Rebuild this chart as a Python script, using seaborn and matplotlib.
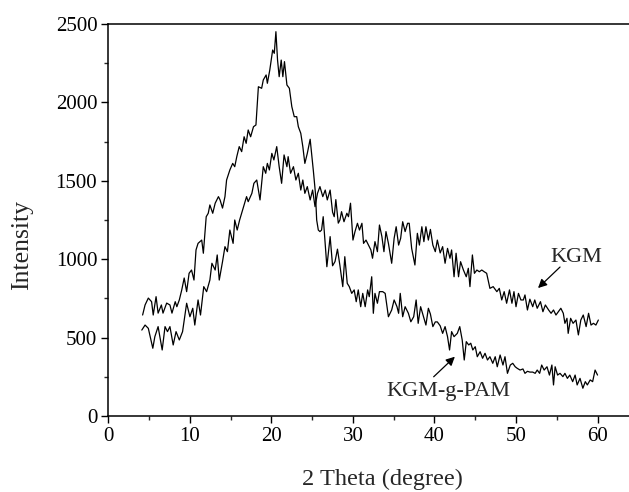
import matplotlib
matplotlib.use("Agg")
import matplotlib.pyplot as plt
import seaborn as sns
import pandas as pd
from matplotlib.ticker import MultipleLocator

# ---- data ----
theta_a = [4.2, 4.5, 4.9, 5.3, 5.5, 5.85, 6.1, 6.5, 6.7, 7.15, 7.55, 7.8, 8.2, 8.4, 8.7, 9.0, 9.3, 9.6, 9.9,
           10.2, 10.5, 10.75, 11.0, 11.45, 11.65, 12.0, 12.25, 12.45, 12.8, 13.1, 13.5, 13.7, 14.0, 14.3, 14.5,
           14.9, 15.25, 15.5, 15.75, 16.05, 16.35, 16.65, 16.9, 17.15, 17.45, 17.8, 18.1, 18.4, 18.8, 19.0,
           19.35, 19.5, 19.8, 20.15, 20.35, 20.55, 20.75, 20.95, 21.2, 21.4, 21.6, 21.9, 22.2, 22.5, 22.8,
           23.1, 23.3, 23.6, 23.85, 24.1, 24.4, 24.75, 25.15, 25.4, 25.55, 25.75, 25.95, 26.15, 26.35, 26.8,
           27.2, 27.5, 27.8, 28.1, 28.4, 28.75, 29.0, 29.3, 29.55, 29.85, 30.15, 30.4, 30.65, 30.95, 31.2,
           31.5, 31.8, 32.0, 32.3, 32.5, 32.7, 33.0, 33.25, 33.65, 33.95, 34.35, 34.75, 35.05, 35.4, 35.6,
           35.8, 36.1, 36.4, 36.8, 37.1, 37.45, 37.75, 38.0, 38.3, 38.65, 38.95, 39.25, 39.5, 39.8, 40.1,
           40.35, 40.7, 41.0, 41.3, 41.6, 41.85, 42.1, 42.4, 42.8, 43.1, 43.4, 43.65, 43.9, 44.2, 44.45,
           44.7, 45.0, 45.25, 45.6, 45.9, 46.2, 46.5, 46.8, 47.15, 47.45, 47.7, 48.05, 48.4, 48.65, 48.95,
           49.3, 49.6, 49.9, 50.15, 50.5, 50.85, 51.1, 51.4, 51.7, 52.05, 52.35, 52.6, 52.9, 53.15, 53.45,
           53.8, 54.1, 54.4, 54.6, 54.8, 55.1, 55.4, 55.75, 56.0, 56.3, 56.6, 56.95, 57.25, 57.5, 57.85,
           58.2, 58.5, 58.75, 59.1, 59.4, 59.7, 60.0]
intensity_a = [644, 708, 752, 729, 644, 761, 656, 708, 656, 720, 708, 656, 729, 697, 740, 804, 880, 793, 910,
               931, 867, 1059, 1101, 1122, 1038, 1271, 1293, 1346, 1293, 1357, 1399, 1378, 1326, 1399, 1505,
               1569, 1611, 1590, 1654, 1718, 1686, 1781, 1739, 1824, 1781, 1845, 1856, 2100, 2090, 2143,
               2175, 2122, 2207, 2334, 2313, 2451, 2270, 2164, 2270, 2164, 2260, 2111, 2090, 1973, 1909,
               1909, 1845, 1803, 1718, 1611, 1675, 1765, 1560, 1420, 1250, 1186, 1176, 1186, 1271, 952,
               1144, 958, 985, 1064, 960, 825, 1016, 846, 825, 782, 804, 729, 804, 697, 782,
               697, 804, 761, 888, 655, 782, 719, 793, 793, 782, 633, 676, 740, 697, 655,
               782, 633, 697, 655, 601, 633, 740, 591, 697, 633, 580, 687, 650, 570, 600,
               600, 575, 527, 570, 506, 421, 538, 506, 527, 570, 485, 357, 474, 453, 464,
               421, 442, 378, 410, 368, 400, 357, 378, 336, 378, 314, 389, 325, 378, 272,
               325, 336, 314, 304, 293, 300, 272, 285, 280, 280, 272, 293, 272, 325, 293,
               314, 261, 325, 198, 314, 261, 272, 251, 272, 240, 261, 219, 261, 198, 240,
               177, 219, 198, 230, 219, 293, 261]

theta_b = [4.1, 4.5, 4.9, 5.45, 5.7, 6.1, 6.6, 6.95, 7.25, 7.55, 7.95, 8.3, 8.7, 9.1, 9.6, 10.0, 10.35, 10.6,
           11.0, 11.3, 11.7, 12.05, 12.45, 12.7, 13.1, 13.35, 13.6, 14.0, 14.3, 14.6, 14.9, 15.3, 15.5, 15.8,
           16.1, 16.95, 17.15, 17.6, 17.85, 18.2, 18.6, 19.0, 19.3, 19.5, 19.75, 20.05, 20.3, 20.65, 20.95,
           21.25, 21.55, 21.9, 22.05, 22.35, 22.7, 23.0, 23.3, 23.6, 23.85, 24.1, 24.4, 24.75, 25.05, 25.35,
           25.65, 25.95, 26.3, 26.6, 26.85, 27.2, 27.5, 27.7, 27.9, 28.2, 28.4, 28.6, 28.9, 29.25, 29.45,
           29.7, 30.0, 30.25, 30.55, 30.8, 31.1, 31.3, 31.6, 31.9, 32.2, 32.4, 32.7, 33.0, 33.25, 33.55,
           33.8, 34.05, 34.35, 34.75, 35.05, 35.3, 35.6, 35.85, 36.1, 36.4, 36.7, 36.9, 37.2, 37.6, 37.9,
           38.15, 38.45, 38.7, 38.95, 39.25, 39.5, 39.8, 40.1, 40.35, 40.7, 41.0, 41.3, 41.6, 41.9, 42.1,
           42.4, 42.65, 42.95, 43.2, 43.55, 43.9, 44.15, 44.35, 44.65, 44.9, 45.2, 45.5, 45.8, 46.1, 46.4,
           46.8, 47.2, 47.65, 47.95, 48.25, 48.55, 48.85, 49.2, 49.5, 49.75, 50.0, 50.3, 50.6, 50.9, 51.1,
           51.4, 51.7, 52.05, 52.3, 52.6, 53.0, 53.3, 53.6, 54.0, 54.3, 54.6, 54.9, 55.2, 55.5, 55.8,
           56.0, 56.25, 56.4, 56.7, 57.0, 57.35, 57.65, 57.95, 58.25, 58.6, 58.9, 59.2, 59.5, 59.8, 60.1]
intensity_b = [548, 580, 559, 432, 506, 570, 421, 570, 538, 570, 453, 538, 485, 538, 719, 633, 687, 580,
               740, 644, 825, 793, 867, 974, 931, 1027, 867, 984, 1080, 1048, 1186, 1101, 1250, 1186,
               1250, 1399, 1367, 1420, 1484, 1505, 1378, 1590, 1548, 1611, 1569, 1675, 1633, 1718, 1590,
               1484, 1665, 1590, 1654, 1548, 1590, 1505, 1548, 1441, 1505, 1420, 1463, 1378, 1441, 1335,
               1420, 1463, 1399, 1441, 1378, 1441, 1300, 1271, 1380, 1230, 1250, 1303, 1239, 1293, 1271,
               1357, 1122, 1176, 1229, 1186, 1229, 1101, 1122, 1090, 1059, 1006, 1112, 1048, 1218, 1144,
               1048, 1176, 1101, 974, 1133, 1207, 1090, 1133, 1239, 1176, 1229, 1229, 1069, 963, 1165,
               1090, 1207, 1112, 1207, 1122, 1190, 1090, 1048, 1122, 1040, 1080, 974, 1069, 1006, 1059,
               888, 1038, 888, 984, 931, 888, 942, 825, 1027, 910, 931, 920, 931, 920, 910,
               814, 825, 793, 814, 740, 793, 719, 804, 719, 793, 697, 782, 740, 740, 772,
               676, 745, 697, 740, 687, 729, 665, 708, 676, 655, 676, 644, 665, 687, 655,
               591, 623, 527, 623, 591, 612, 517, 612, 644, 570, 655, 580, 591, 580, 612]

label_upper = "KGM"
label_lower = "KGM-g-PAM"
x_ticks = [0, 10, 20, 30, 40, 50, 60]
y_ticks = [0, 500, 1000, 1500, 2000, 2500]

# ---- styling ----
sns.set_theme(style="ticks")
plt.rcParams["font.family"] = ["Liberation Serif", "DejaVu Serif"]

fig = plt.figure(figsize=(6.29, 4.92), dpi=100)
ax = fig.add_axes([0.1723, 0.1545, 0.836, 0.7967])

df_a = pd.DataFrame({"theta": theta_a, "intensity": intensity_a})
df_b = pd.DataFrame({"theta": theta_b, "intensity": intensity_b})
sns.lineplot(data=df_a, x="theta", y="intensity", ax=ax, color="black", lw=0.9,
             estimator=None, sort=False)
sns.lineplot(data=df_b, x="theta", y="intensity", ax=ax, color="black", lw=0.9,
             estimator=None, sort=False)

ax.set_xlim(0, 64.5)
ax.set_ylim(0, 2500)
ax.set_xticks(x_ticks)
ax.set_yticks(y_ticks)
ax.xaxis.set_minor_locator(MultipleLocator(5))
ax.yaxis.set_minor_locator(MultipleLocator(250))
ax.tick_params(axis="both", which="major", direction="out", length=5, width=1,
               labelsize=15, colors="black", pad=3)
ax.tick_params(axis="both", which="minor", direction="out", length=3, width=1)
ax.tick_params(top=False, right=False)
for s in ax.spines.values():
    s.set_visible(True)
    s.set_linewidth(1.1)
    s.set_color("black")

ax.set_xlabel("2 Theta (degree)", fontsize=17.5, va="center")
ax.xaxis.set_label_coords(0.522, -0.162)
ax.set_ylabel("Intensity", fontsize=18.5, va="center")
ax.yaxis.set_label_coords(-0.164, 0.436)

arrow_kw = dict(arrowstyle="-|>", color="black", lw=0.9, mutation_scale=13,
                shrinkA=0, shrinkB=0)
ax.text(57.4, 1008, label_upper, fontsize=16, ha="center", va="center")
ax.annotate("", xy=(52.7, 816), xytext=(55.4, 950), arrowprops=arrow_kw)
ax.text(41.7, 153, label_lower, fontsize=16, ha="center", va="center")
ax.annotate("", xy=(42.5, 378), xytext=(39.9, 250), arrowprops=arrow_kw)

fig.savefig("out.png", dpi=100)
